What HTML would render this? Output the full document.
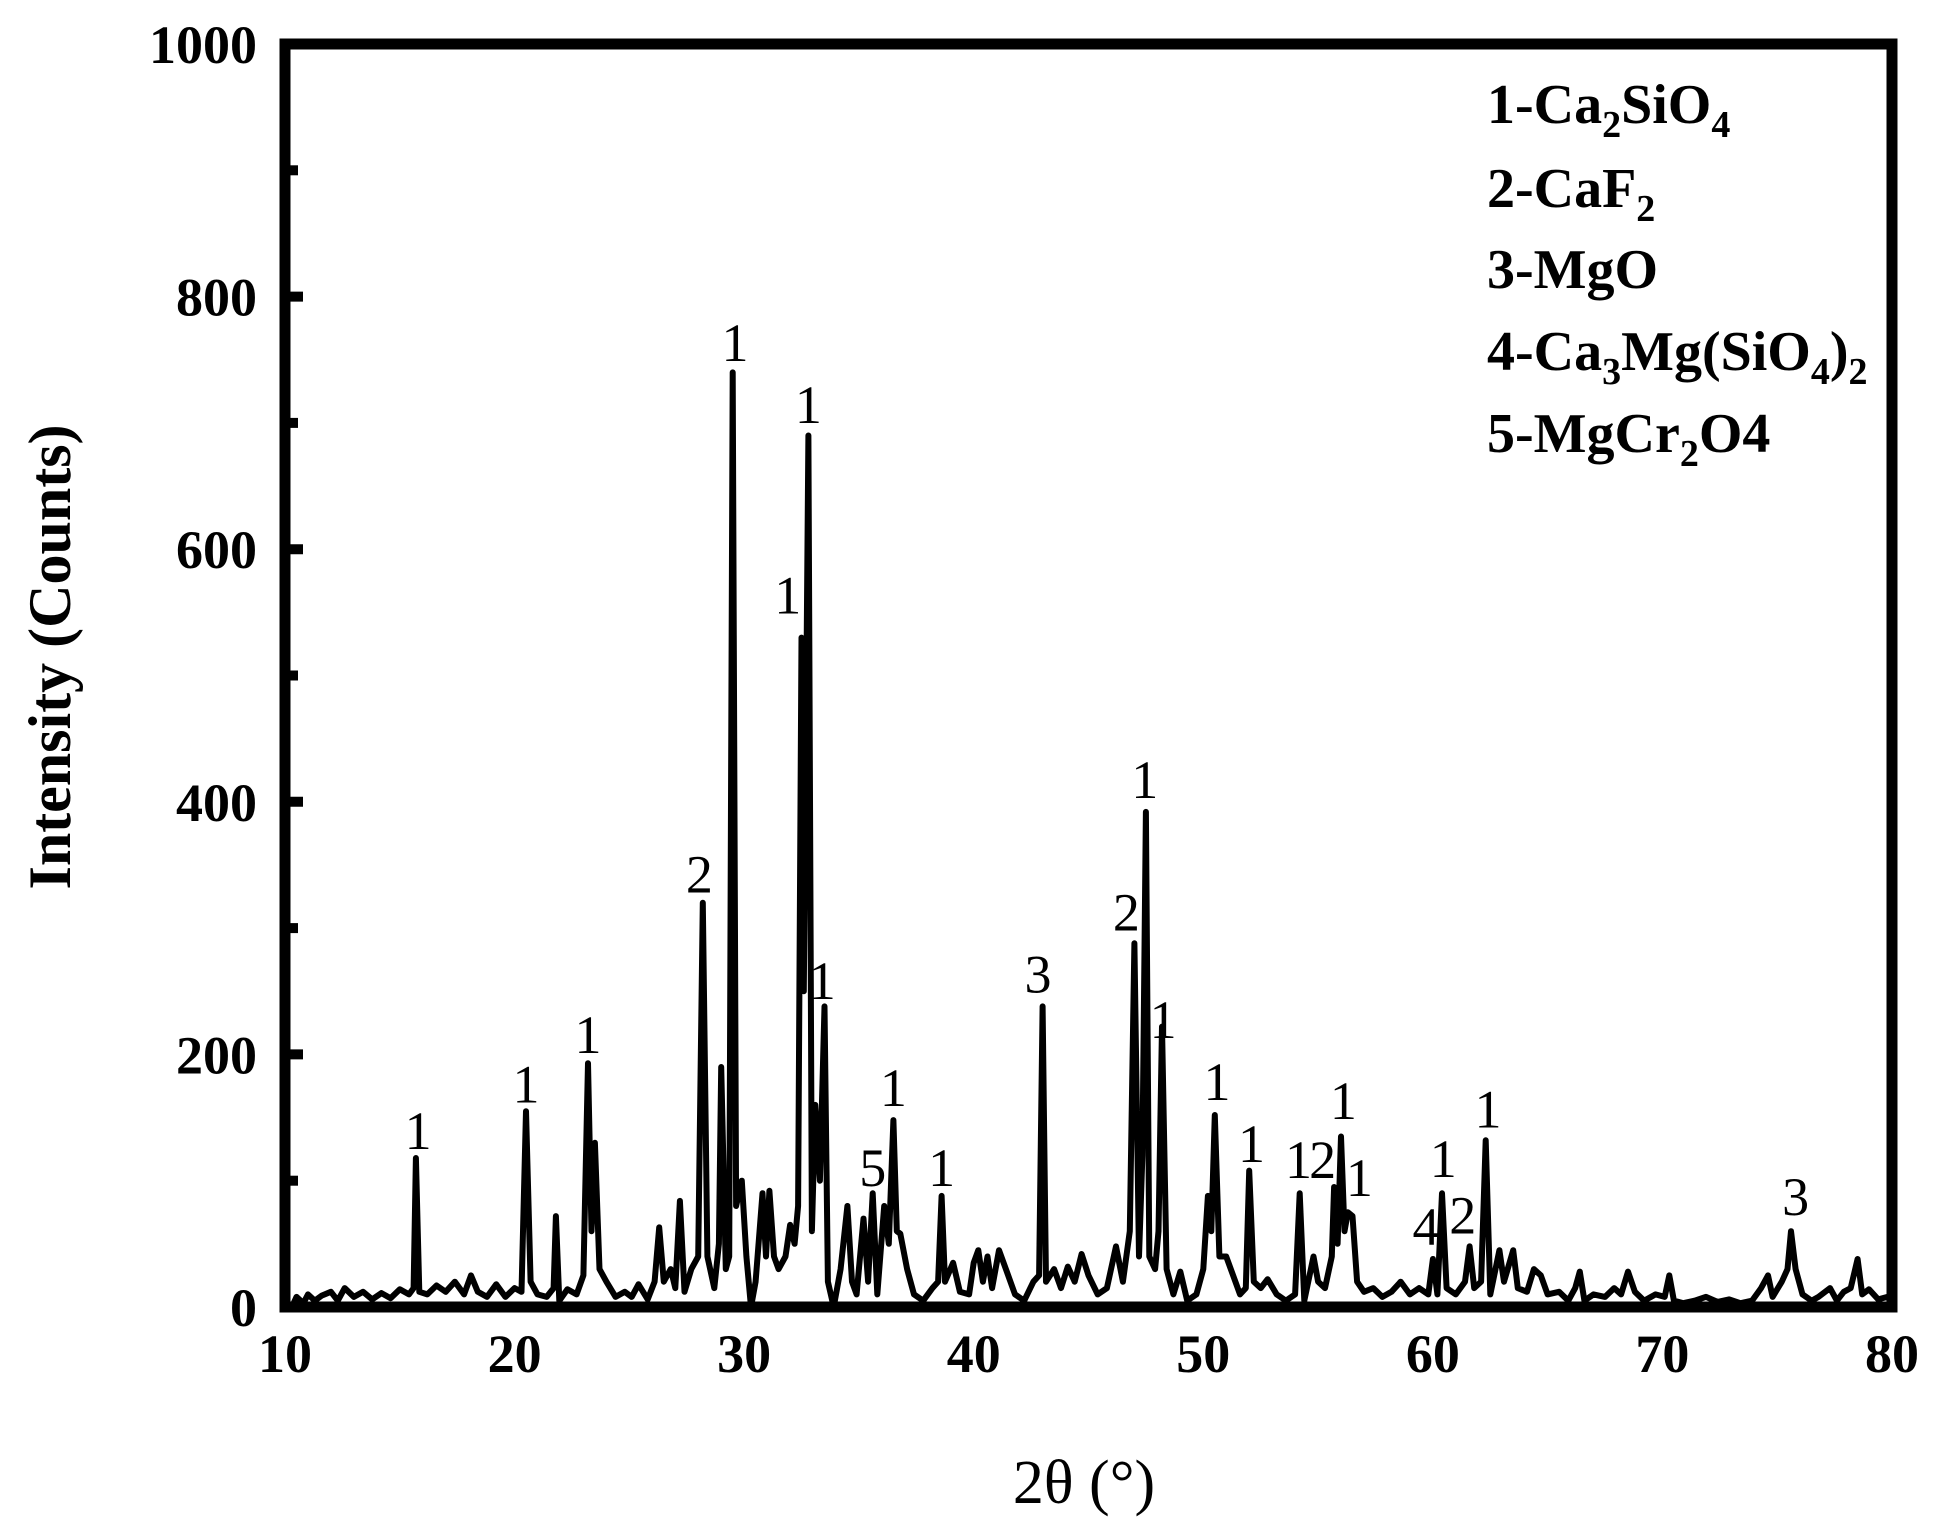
<!DOCTYPE html>
<html><head><meta charset="utf-8"><style>
html,body{margin:0;padding:0;background:#fff;}
svg{display:block;font-family:"Liberation Serif",serif;}
</style></head><body>
<svg id="chart" width="1933" height="1525" viewBox="0 0 1933 1525" xmlns="http://www.w3.org/2000/svg">
<rect width="1933" height="1525" fill="#fff"/>
<g id="plot"></g>
<g id="axes"></g>
<g id="legend" font-weight="bold" font-size="56">
 <text x="1487" y="123">1-Ca<tspan font-size="38" dy="14">2</tspan><tspan dy="-14">SiO</tspan><tspan font-size="38" dy="14">4</tspan></text>
 <text x="1487" y="207">2-CaF<tspan font-size="38" dy="14">2</tspan></text>
 <text x="1487" y="288">3-MgO</text>
 <text x="1487" y="370">4-Ca<tspan font-size="38" dy="14">3</tspan><tspan dy="-14">Mg(SiO</tspan><tspan font-size="38" dy="14">4</tspan><tspan dy="-14">)</tspan><tspan font-size="38" dy="14">2</tspan></text>
 <text x="1487" y="452">5-MgCr<tspan font-size="38" dy="14">2</tspan><tspan dy="-14">O4</tspan></text>
</g>
<text x="0" y="0" transform="translate(70,657) rotate(-90)" text-anchor="middle" font-weight="bold" font-size="60">Intensity (Counts)</text>
<text x="1084" y="1503" text-anchor="middle" font-size="62">2θ (°)</text>
</svg>
<script>
const twoTheta=[10.0,10.3,10.5,10.8,11.0,11.3,11.6,12.0,12.3,12.6,13.0,13.4,13.8,14.2,14.6,15.0,15.4,15.6,15.7,15.85,16.2,16.6,17.0,17.4,17.8,18.1,18.4,18.8,19.2,19.6,20.0,20.3,20.5,20.7,21.0,21.4,21.7,21.8,21.95,22.3,22.7,23.0,23.2,23.35,23.5,23.7,24.0,24.4,24.8,25.1,25.4,25.8,26.1,26.3,26.5,26.8,27.0,27.2,27.4,27.7,28.0,28.2,28.4,28.7,28.9,29.0,29.2,29.35,29.5,29.65,29.9,30.1,30.3,30.5,30.8,30.95,31.1,31.3,31.5,31.8,32.0,32.2,32.35,32.5,32.6,32.8,32.95,33.1,33.3,33.5,33.65,33.9,34.2,34.5,34.7,34.9,35.2,35.4,35.6,35.8,36.1,36.3,36.5,36.65,36.8,37.1,37.4,37.8,38.2,38.45,38.6,38.75,39.1,39.4,39.8,40.0,40.2,40.4,40.6,40.8,41.1,41.4,41.8,42.2,42.6,42.85,43.0,43.15,43.5,43.8,44.1,44.4,44.7,45.0,45.4,45.8,46.2,46.5,46.8,47.0,47.2,47.35,47.5,47.65,47.9,48.05,48.2,48.4,48.7,49.0,49.3,49.7,50.0,50.2,50.35,50.5,50.7,51.0,51.3,51.6,51.85,52.0,52.2,52.5,52.8,53.2,53.6,54.0,54.2,54.4,54.8,55.0,55.3,55.6,55.7,55.85,56.0,56.15,56.3,56.5,56.7,57.0,57.4,57.8,58.2,58.6,59.0,59.4,59.8,60.0,60.2,60.4,60.6,61.0,61.4,61.6,61.8,62.1,62.3,62.5,62.9,63.1,63.5,63.7,64.1,64.4,64.7,65.0,65.5,65.9,66.2,66.4,66.6,67.0,67.5,67.9,68.2,68.5,68.8,69.2,69.7,70.1,70.3,70.5,70.9,71.4,71.9,72.4,72.9,73.4,73.9,74.3,74.6,74.8,75.2,75.45,75.6,75.8,76.1,76.5,76.8,77.3,77.6,77.9,78.2,78.5,78.7,79.0,79.4,79.8,80.0];
const counts=[5,0,8,3,10,5,9,12,5,15,8,12,6,11,7,14,10,15,118,12,10,17,12,20,10,25,12,8,18,8,15,12,155,20,10,8,15,72,5,14,10,25,193,60,130,30,20,8,12,8,18,6,20,63,20,30,15,84,12,30,40,320,40,15,50,190,30,40,740,80,100,40,0,20,90,40,92,40,30,40,65,50,80,530,250,690,60,160,100,238,20,0,30,80,20,10,70,20,90,10,80,50,148,60,58,30,10,5,15,20,88,20,35,12,10,35,45,20,40,15,45,30,10,5,20,25,238,20,30,15,32,20,42,25,10,15,48,20,60,288,40,120,392,40,30,60,222,30,10,28,5,10,30,88,60,152,40,40,25,10,15,108,20,15,22,10,5,10,90,5,40,20,15,40,95,50,135,60,75,72,20,12,15,8,12,20,10,15,10,38,10,90,15,10,20,48,15,20,132,10,45,20,45,15,12,30,25,10,12,5,15,28,5,10,8,15,10,28,12,5,10,8,25,5,3,5,8,4,6,3,5,15,25,8,20,30,60,30,10,5,8,15,5,12,15,38,10,14,6,8,5];
const labelText=["1","1","1","2","1","1","1","1","5","1","1","3","2","1","1","1","1","1","2","1","1","4","2","1","1","3"];
const labelDeg=[15.8,20.5,23.2,28.05,29.6,32.8,31.9,33.4,35.6,36.5,38.6,42.8,46.65,47.45,48.25,50.6,52.1,54.15,55.2,56.1,56.8,59.7,61.3,60.45,62.4,75.8];
const labelCount=[125,162,201,328,749,700,549,244,96,159,96,249,298,403,213,164,115,102,102,149,88,49,58,103,142,73];
const xTicks=[10,20,30,40,50,60,70,80];
const yTicks=[0,200,400,600,800,1000];
const yMinor=[100,300,500,700,900];

const NS="http://www.w3.org/2000/svg";
const X0=285,X1=1892,Y0=1307,Y1=44;
function sx(d){return X0+(d-10)/70*(X1-X0);}
function sy(c){return Y0-c/1000*(Y0-Y1);}
function mk(tag,attrs,parent){const e=document.createElementNS(NS,tag);for(const k in attrs)e.setAttribute(k,attrs[k]);parent.appendChild(e);return e;}
const plot=document.getElementById('plot'),axes=document.getElementById('axes');
let d="";
for(let i=0;i<twoTheta.length;i++){d+=(i?"L":"M")+sx(twoTheta[i]).toFixed(1)+","+sy(counts[i]).toFixed(1);}
const line=mk('path',{d:d,fill:"none",stroke:"#000","stroke-width":6,"stroke-linejoin":"round"},plot);


for(let i=0;i<labelText.length;i++){
 const t=mk('text',{x:sx(labelDeg[i]),y:sy(labelCount[i]),"text-anchor":"middle","font-size":54},plot);
 t.textContent=labelText[i];
 
 
}
const frame=mk('rect',{x:X0,y:Y1,width:X1-X0,height:Y0-Y1,fill:"none",stroke:"#000","stroke-width":11},axes);


yTicks.forEach(v=>{
 const tk=mk('line',{x1:X0,x2:X0+18,y1:sy(v),y2:sy(v),stroke:"#000","stroke-width":10},axes);
 
 
 const t=mk('text',{x:257,y:sy(v)+19,"text-anchor":"end","font-size":54,"font-weight":"bold"},axes);
 t.textContent=v;
 
 
});
yMinor.forEach(v=>{
 const tk=mk('line',{x1:X0,x2:X0+13,y1:sy(v),y2:sy(v),stroke:"#000","stroke-width":10},axes);
 
 
});
xTicks.forEach(v=>{
 const t=mk('text',{x:sx(v),y:1372,"text-anchor":"middle","font-size":54,"font-weight":"bold"},axes);
 t.textContent=v;
 
 
});
</script>
</body></html>
